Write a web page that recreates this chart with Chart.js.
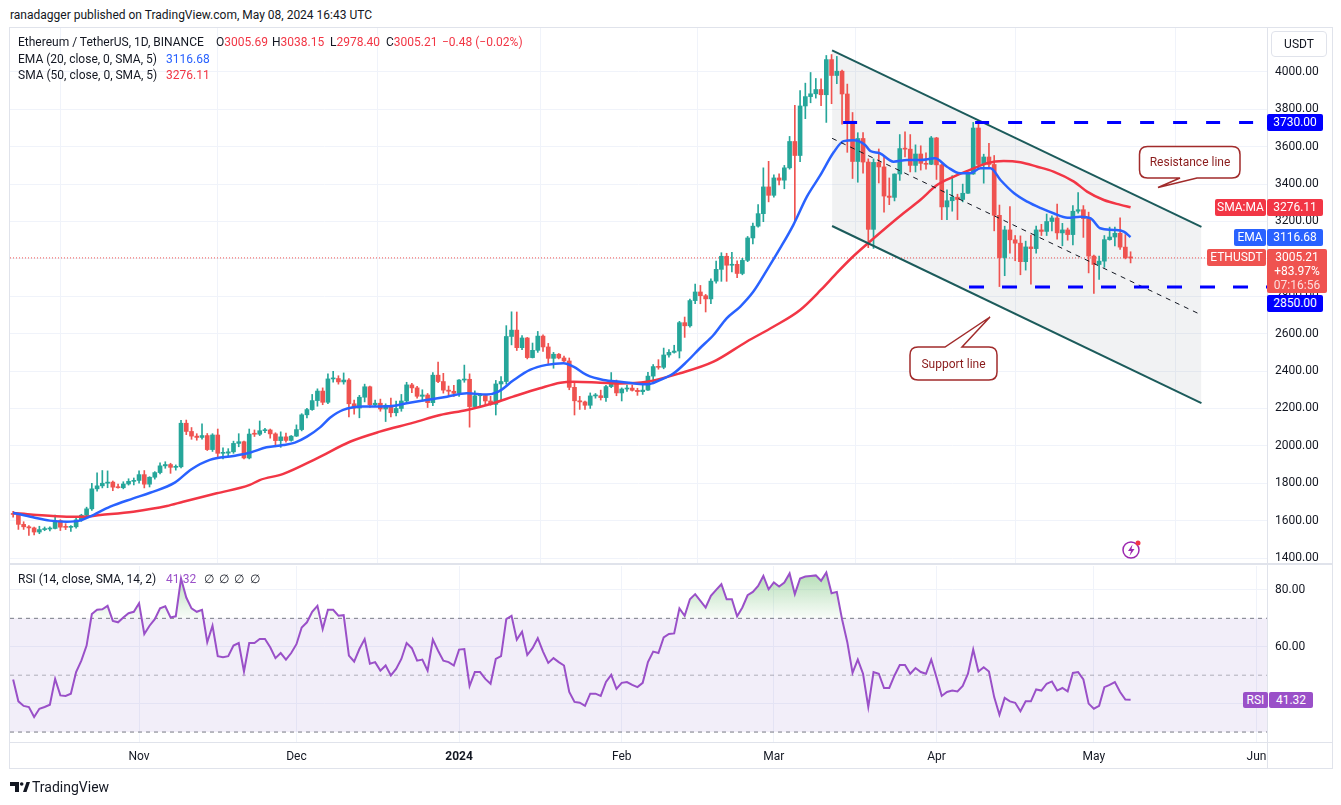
<!DOCTYPE html>
<html lang="en">
<head>
<meta charset="utf-8">
<title>Ethereum / TetherUS 1D</title>
<script src="https://cdn.jsdelivr.net/npm/chart.js@4.4.1/dist/chart.umd.min.js"></script>
<style>
  html, body { margin: 0; padding: 0; background: #fff; }
  body { position: relative; width: 1341px; height: 805px; overflow: hidden;
         font-family: Roboto, "Noto Sans", Arial, sans-serif; font-size: 12px; color: #131722; }
  .abs { position: absolute; white-space: nowrap; }
  .txt { line-height: 16px; }
  .red { color: #f23645; }
  .blue { color: #2962ff; }
  .purple { color: #9a50c8; }
  .rule { position: absolute; background: #e0e3eb; }
  .tag { position: absolute; height: 17px; line-height: 17px; color: #fff; font-size: 12px;
         text-align: center; border-radius: 2px; white-space: nowrap; }
  #pw { left: 0; top: 0; width: 1341px; height: 564px; }
  #rw { left: 0; top: 565px; width: 1341px; height: 240px; }
</style>
</head>
<body>
<div class="abs txt" style="left:10px;top:7px">ranadagger published on TradingView.com, May 08, 2024 16:43 UTC</div>

<div class="abs" id="pw"><canvas id="priceChart"></canvas></div>
<div class="abs" id="rw"><canvas id="rsiChart"></canvas></div>

<!-- frame -->
<div class="rule" style="left:9px;top:27px;width:1324px;height:1px"></div>
<div class="rule" style="left:9px;top:768px;width:1324px;height:1px"></div>
<div class="rule" style="left:9px;top:27px;width:1px;height:742px"></div>
<div class="rule" style="left:1332px;top:27px;width:1px;height:742px"></div>
<div class="rule" style="left:1267px;top:27px;width:1px;height:742px"></div>
<div class="rule" style="left:9px;top:563px;width:1324px;height:2px"></div>
<div class="rule" style="left:9px;top:742px;width:1324px;height:1px"></div>

<!-- legends -->
<div class="abs txt" style="left:18px;top:34px">Ethereum / TetherUS, 1D, BINANCE</div>
<div class="abs txt" style="left:216px;top:34px">O<span class="red">3005.69</span></div>
<div class="abs txt" style="left:272px;top:34px">H<span class="red">3038.15</span></div>
<div class="abs txt" style="left:330px;top:34px">L<span class="red">2978.40</span></div>
<div class="abs txt" style="left:386px;top:34px">C<span class="red">3005.21</span></div>
<div class="abs txt red" style="left:442px;top:34px">−0.48 (−0.02%)</div>
<div class="abs txt" style="left:18px;top:51px">EMA (20, close, 0, SMA, 5)</div>
<div class="abs txt blue" style="left:166px;top:51px">3116.68</div>
<div class="abs txt" style="left:18px;top:67px">SMA (50, close, 0, SMA, 5)</div>
<div class="abs txt red" style="left:166px;top:67px">3276.11</div>
<div class="abs txt" style="left:18px;top:571px">RSI (14, close, SMA, 14, 2)</div>
<div class="abs txt purple" style="left:166px;top:571px">41.32</div>
<div class="abs txt" style="left:204px;top:571px">∅</div>
<div class="abs txt" style="left:219px;top:571px">∅</div>
<div class="abs txt" style="left:234px;top:571px">∅</div>
<div class="abs txt" style="left:250px;top:571px">∅</div>

<div class="abs" style="left:1271px;top:31px;width:54px;height:24px;border:1px solid #e0e3eb;border-radius:4px;line-height:24px;text-align:center">USDT</div>

<div id="tags"></div>

<svg class="abs" style="left:0;top:0" width="1341" height="805">
  <path d="M1147.5 146.5 H1232 Q1240 146.5 1240 154.5 V170 Q1240 178 1232 178 H1197 L1158 187.5 L1180 178 H1147.5 Q1139.5 178 1139.5 170 V154.5 Q1139.5 146.5 1147.5 146.5 Z"
        fill="#fff" stroke="#a12b2b" stroke-width="1.5"/>
  <text x="1190" y="166" text-anchor="middle" font-size="12" fill="#8a1c1c" font-family="Roboto, 'Noto Sans', sans-serif">Resistance line</text>
  <path d="M918 347 H945 L990 317 L962 347 H989 Q997 347 997 355 V372 Q997 380 989 380 H918 Q910 380 910 372 V355 Q910 347 918 347 Z"
        fill="#fff" stroke="#a12b2b" stroke-width="1.5"/>
  <text x="953.5" y="368" text-anchor="middle" font-size="12" fill="#8a1c1c" font-family="Roboto, 'Noto Sans', sans-serif">Support line</text>
  <circle cx="1131" cy="550" r="8" fill="#fff" stroke="#9c27b0" stroke-width="1.5"/>
  <path d="M1132.5 544.5 L1128 551 H1131 L1129.5 556 L1134.5 549 H1131.5 Z" fill="#9c27b0"/>
  <circle cx="1138" cy="543" r="2.5" fill="#f23645"/>
  <path d="M10 782 h9 v10 h-4 v-6 h-5 z" fill="#131722"/>
  <circle cx="21.7" cy="784" r="1.8" fill="#131722"/>
  <path d="M23 792 L26.5 782 H30 L26.5 792 Z" fill="#131722"/>
  <text x="32" y="792" font-size="14" fill="#131722" font-family="Roboto, 'Noto Sans', sans-serif">TradingView</text>
</svg>

<script>
// one candle per day, day 0 = 2023-10-08, day 213 = 2024-05-08
const monthDays = [24, 54, 85, 116, 145, 176, 206, 237];
const monthLabels = ['Nov', 'Dec', '2024', 'Feb', 'Mar', 'Apr', 'May', 'Jun'];
const priceTicks = [1400, 1600, 1800, 2000, 2200, 2400, 2600, 2800, 3000, 3200, 3400, 3600, 3800, 4000];
const rsiTicks = [40, 60, 80];

const opens = [
  1637,1633,1580,1567,1561,1539,1552,1555,1558,1600,1565,1564,1567,1604,1629,1663,1770,1786,1800,1806,
  1779,1776,1796,1810,1815,1846,1795,1832,1857,1893,1900,1885,1888,2121,2077,2052,2045,2055,1980,2058,
  1960,1961,1968,2013,2022,1935,2063,2062,2081,2085,2064,2028,2048,2029,2052,2087,2166,2194,2242,2293,
  2233,2358,2360,2342,2352,2225,2202,2260,2316,2220,2228,2197,2217,2177,2200,2240,2326,2310,2265,2272,
  2231,2378,2344,2298,2292,2281,2352,2356,2210,2268,2269,2240,2222,2331,2344,2585,2619,2525,2577,2472,
  2511,2587,2529,2468,2490,2470,2454,2313,2241,2235,2217,2267,2268,2258,2317,2343,2283,2304,2309,2297,
  2290,2298,2373,2424,2420,2486,2500,2507,2659,2642,2777,2823,2803,2786,2881,2944,3014,2966,2971,2922,
  2992,3112,3175,3242,3385,3340,3433,3421,3487,3628,3553,3818,3868,3883,3906,3878,4066,3981,4004,3882,
  3737,3521,3644,3518,3158,3516,3492,3336,3329,3454,3590,3587,3500,3561,3511,3506,3647,3503,3278,3311,
  3330,3318,3351,3454,3700,3505,3545,3505,3233,3007,3155,3102,3084,2985,3064,3055,3155,3147,3200,3219,
  3139,3155,3130,3255,3263,3216,3015,2970,2988,3103,3117,3137,3063,3005.69
];
const highs = [
  1650,1636,1594,1573,1566,1570,1566,1567,1630,1605,1584,1574,1615,1634,1672,1800,1855,1868,1866,1812,
  1795,1808,1824,1828,1866,1868,1835,1862,1909,1915,1907,1898,2136,2138,2098,2065,2118,2066,2065,2090,
  1990,1985,2025,2065,2025,2090,2085,2133,2094,2090,2070,2075,2068,2055,2112,2172,2200,2275,2305,2310,
  2385,2398,2375,2390,2360,2245,2270,2330,2320,2245,2250,2225,2255,2240,2275,2340,2335,2318,2300,2280,
  2392,2448,2388,2320,2324,2355,2432,2385,2294,2278,2275,2265,2350,2370,2643,2717,2716,2590,2580,2550,
  2612,2594,2548,2500,2494,2480,2470,2345,2265,2240,2283,2280,2298,2324,2392,2352,2310,2325,2325,2308,
  2336,2393,2435,2461,2523,2515,2538,2666,2689,2785,2865,2858,2810,2893,2988,3033,3030,3035,2990,3003,
  3120,3192,3290,3487,3522,3450,3455,3500,3655,3822,3900,3940,3997,3965,3963,4088,4093,4083,4010,3935,
  3783,3675,3675,3535,3535,3588,3545,3433,3455,3665,3680,3665,3610,3605,3567,3655,3650,3505,3370,3445,
  3346,3400,3458,3730,3728,3560,3618,3553,3288,3175,3280,3125,3123,3095,3128,3175,3185,3240,3230,3293,
  3190,3165,3285,3355,3285,3250,3020,3015,3125,3170,3170,3220,3130,3038.15
];
const lows = [
  1618,1553,1553,1521,1523,1530,1546,1545,1555,1547,1552,1542,1560,1596,1620,1655,1758,1775,1776,1760,
  1773,1770,1790,1791,1800,1775,1780,1822,1850,1880,1853,1870,1882,2060,2035,2030,2036,1975,1970,1940,
  1930,1945,1960,1995,1930,1930,2050,2055,2071,2041,1995,1992,2020,2025,2050,2080,2150,2190,2212,2220,
  2226,2340,2330,2330,2155,2170,2150,2235,2205,2210,2185,2130,2155,2160,2185,2230,2285,2255,2240,2205,
  2215,2338,2282,2270,2265,2265,2340,2100,2200,2208,2215,2217,2165,2245,2330,2540,2510,2515,2465,2470,
  2500,2505,2440,2415,2465,2450,2300,2165,2195,2195,2200,2255,2245,2237,2311,2268,2240,2291,2293,2270,
  2275,2296,2332,2410,2412,2474,2496,2470,2580,2635,2760,2760,2716,2760,2870,2880,2880,2930,2900,2915,
  2985,3080,3170,3199,3305,3330,3395,3375,3480,3200,3520,3750,3835,3860,3820,3730,3830,3937,3720,3570,
  3430,3410,3458,3060,3056,3406,3250,3290,3310,3420,3545,3465,3465,3475,3480,3504,3425,3210,3210,3255,
  3210,3305,3350,3452,3485,3405,3486,3150,2852,2910,3030,2990,2915,2940,2865,3030,3125,3125,3150,3105,
  3070,3100,3075,3245,3115,2925,2815,2890,2955,3100,3070,3050,3000,2978.40
];
const closes = [
  1633,1580,1567,1561,1539,1552,1555,1558,1600,1565,1564,1567,1604,1629,1663,1770,1786,1800,1806,1779,
  1776,1796,1810,1815,1846,1795,1832,1857,1893,1900,1885,1888,2121,2077,2052,2045,2055,1980,2058,1960,
  1961,1968,2013,2022,1935,2063,2062,2081,2085,2064,2028,2048,2029,2052,2087,2166,2194,2242,2293,2233,
  2358,2360,2342,2352,2225,2202,2260,2316,2220,2228,2197,2217,2177,2200,2240,2326,2310,2265,2272,2231,
  2378,2344,2298,2292,2281,2352,2356,2210,2268,2269,2240,2222,2331,2344,2585,2619,2525,2577,2472,2511,
  2587,2529,2468,2490,2470,2454,2313,2241,2235,2217,2267,2268,2258,2317,2343,2283,2304,2309,2297,2290,
  2298,2373,2424,2420,2486,2500,2507,2659,2642,2777,2823,2803,2786,2881,2944,3014,2966,2971,2922,2992,
  3112,3175,3242,3385,3340,3433,3421,3487,3628,3553,3818,3868,3883,3906,3878,4066,3981,4004,3882,3737,
  3521,3644,3518,3158,3516,3492,3336,3329,3454,3590,3587,3500,3561,3511,3506,3647,3503,3278,3311,3330,
  3318,3351,3454,3700,3505,3545,3505,3233,3007,3155,3102,3084,2985,3064,3055,3155,3147,3200,3219,3139,
  3155,3130,3255,3263,3216,3015,2970,2988,3103,3117,3137,3063,3006,3005.21
];

// EMA 20 and SMA 50 at sample days
const emaDays = [0,3.8,7,10.2,12.7,14.6,18.5,22.9,26.1,30.8,34,37.5,42,45.1,48.3,51.5,53.7,56,58.5,60.4,
  62.9,66.7,71.8,75,78.8,82.7,86.5,90.3,92.5,95.3,98.5,101.7,104.9,106.8,109.3,112.5,115.7,120.8,123.3,125.9,
  128.4,130.9,133.5,136,138.6,141.1,143.7,146.2,148.7,151.3,153.8,156.4,158.3,160.2,162.4,163.4,165.2,167.8,170.4,172.9,
  175.7,178,180.5,182.4,184.4,186.3,188.2,190.8,193.3,195.9,198.3,201,203.4,205.4,207.2,209.8,211.7,213];
const emaValues = [1642,1618,1600,1594,1600,1621,1675,1719,1749,1803,1875,1925,1946,1963,1992,2004,2017,2049,2099,2150,
  2192,2210,2212,2228,2245,2263,2281,2275,2290,2349,2406,2433,2442,2424,2379,2352,2343,2329,2352,2388,
  2450,2522,2593,2682,2745,2825,2941,3057,3181,3333,3445,3570,3630,3634,3609,3577,3565,3520,3529,3529,
  3538,3493,3458,3458,3485,3485,3422,3351,3306,3271,3244,3220,3226,3217,3164,3155,3146,3116.68];
const smaDays = [0,3.8,10.2,13.4,16.6,22.9,29.3,32.4,38.8,45.1,47,51.5,57.9,64.2,69.9,76.3,81.4,86.5,91.5,95.3,
  100.4,104.3,106.8,111.9,115.7,120.8,127.1,133.5,139.8,144.9,150,154,157,160,163,166.6,169.7,172.9,176.1,179.3,
  182.4,185.6,188.8,192,195.2,198.3,202.2,204.7,207.9,211.1,213];
const smaValues = [1641,1632,1621,1621,1630,1648,1678,1701,1746,1791,1817,1850,1933,2022,2076,2124,2165,2192,2228,2263,
  2308,2338,2343,2338,2334,2343,2388,2450,2557,2637,2727,2835,2925,3010,3085,3172,3244,3315,3395,3440,
  3476,3512,3524,3517,3493,3467,3413,3360,3315,3289,3276.11];

// RSI 14, one value per day
const rsiValues = [
  48.5,40.8,39.2,38.8,35.3,38.2,38.8,39.6,48.7,42.9,42.7,43.5,51.1,55.1,60.4,71.5,73.0,73.2,74.4,69.1,
  68.6,70.3,71.8,72.3,75.3,64.5,67.4,69.7,73.5,74.2,70.3,70.7,84.0,77.3,73.5,72.3,73.0,61.6,67.4,56.7,
  56.3,56.7,60.4,61.3,51.3,61.3,61.3,62.7,62.7,59.8,56.0,57.8,55.5,57.8,60.9,66.8,68.6,72.3,74.4,66.2,
  73.0,73.0,70.9,71.1,56.9,54.8,59.2,62.7,54.0,54.6,51.6,53.4,49.9,52.2,55.7,61.3,59.5,55.1,55.5,51.6,
  62.5,58.6,55.1,54.6,53.4,59.0,59.2,46.2,51.1,51.1,48.7,47.0,55.7,56.7,69.7,70.9,62.5,65.3,57.1,59.5,
  63.0,58.3,54.3,56.0,54.6,53.4,44.1,40.6,40.3,39.2,43.5,43.5,42.7,47.6,50.1,45.2,47.3,47.6,46.6,45.8,
  47.3,54.6,58.3,57.8,63.3,64.5,64.7,73.5,70.9,76.7,78.5,76.1,73.8,77.9,80.0,82.0,76.7,76.7,70.7,73.8,
  78.1,79.3,81.4,84.9,80.2,82.6,81.2,82.6,85.8,78.5,84.0,84.7,84.9,85.1,83.2,86.1,78.8,79.3,69.7,61.6,
  50.8,55.5,50.5,38.8,51.1,50.5,45.5,45.5,49.9,53.6,53.6,50.5,52.5,51.1,50.5,55.5,49.3,42.7,44.1,44.6,
  44.3,46.2,50.5,59.0,51.3,52.8,51.3,42.3,36.1,42.0,40.8,40.3,37.3,40.8,40.8,45.0,44.6,47.0,47.8,44.6,
  45.5,44.3,50.8,51.1,48.5,40.0,38.2,39.2,45.8,46.6,47.6,44.1,41.4,41.32
];

// drawings (day, price)
const channelTop = [[156.1, 4115], [226.5, 3171]];
const channelBottom = [[156.1, 3176], [226.5, 2229]];
const channelMid = [[156.1, 3645], [226.5, 2700]];
const resistanceLine = [158.2, 3730];
const supportLine = [182.2, 2850];

const xRange = [-0.6, 239];
const priceRange = [1368, 4235];
const rsiRange = [26.5, 88.4];

const upColor = '#26a69a';
const downColor = '#ef5350';
const gridColor = '#f0f3fa';
const rsiColor = '#9a50c8';

Chart.defaults.font.family = 'Roboto, "Noto Sans", sans-serif';
Chart.defaults.font.size = 12;
Chart.defaults.color = '#131722';

const pts = arr => arr.map(p => ({x: p[0], y: p[1]}));
const hLine = (from, y) => [{x: from, y: y}, {x: xRange[1], y: y}];
const candleColors = closes.map((c, i) => c >= opens[i] ? upColor : downColor);
const lastClose = closes[closes.length - 1];

const monthTicks = s => { s.ticks = monthDays.map(v => ({value: v})); };

const priceChart = new Chart(document.getElementById('priceChart'), {
  type: 'bar',
  data: {
    datasets: [
      {type: 'line', data: pts(channelTop), borderColor: '#1c5b5b', borderWidth: 2, pointRadius: 0,
       fill: '+1', backgroundColor: 'rgba(120,123,134,0.1)', order: 2},
      {type: 'line', data: pts(channelBottom), borderColor: '#1c5b5b', borderWidth: 2, pointRadius: 0,
       fill: false, order: 2},
      {type: 'line', data: pts(channelMid), borderColor: '#131722', borderWidth: 1, borderDash: [5, 5],
       pointRadius: 0, fill: false, order: 1},
      {type: 'line', data: hLine(resistanceLine[0], resistanceLine[1]), borderColor: '#0000ff', borderWidth: 3,
       borderDash: [14, 19], pointRadius: 0, fill: false, order: 0},
      {type: 'line', data: hLine(supportLine[0], supportLine[1]), borderColor: '#0000ff', borderWidth: 3,
       borderDash: [15, 18], pointRadius: 0, fill: false, order: 0},
      {type: 'line', data: emaDays.map((d, i) => ({x: d, y: emaValues[i]})), borderColor: '#2962ff',
       borderWidth: 2.5, pointRadius: 0, cubicInterpolationMode: 'monotone', fill: false, order: 4},
      {type: 'line', data: smaDays.map((d, i) => ({x: d, y: smaValues[i]})), borderColor: '#f23645',
       borderWidth: 2.5, pointRadius: 0, cubicInterpolationMode: 'monotone', fill: false, order: 5},
      {label: 'wicks', data: highs.map((h, i) => ({x: i, y: [lows[i], h]})), backgroundColor: candleColors,
       barThickness: 1, grouped: false, order: 8},
      {label: 'bodies', data: opens.map((o, i) => ({x: i, y: [o, closes[i]]})), backgroundColor: candleColors,
       barThickness: 4, minBarLength: 1, grouped: false, order: 7},
      {type: 'line', data: hLine(xRange[0], lastClose), borderColor: '#ef5350', borderWidth: 1,
       borderDash: [1, 2], pointRadius: 0, fill: false, order: 9}
    ]
  },
  options: {
    responsive: true,
    maintainAspectRatio: false,
    animation: false,
    events: [],
    layout: {padding: {left: 10, right: 0, top: 28, bottom: 0}},
    plugins: {legend: {display: false}, tooltip: {enabled: false}, filler: {drawTime: 'beforeDatasetsDraw'}},
    scales: {
      x: {
        type: 'linear', min: xRange[0], max: xRange[1], offset: false,
        grid: {color: gridColor, drawTicks: false}, border: {display: false},
        ticks: {display: false},
        afterBuildTicks: monthTicks,
        afterFit: s => { s.height = 0; s.paddingLeft = 0; s.paddingRight = 0; }
      },
      y: {
        type: 'linear', position: 'right', min: priceRange[0], max: priceRange[1],
        grid: {color: gridColor, drawTicks: false}, border: {display: false},
        ticks: {padding: 8, color: '#131722', callback: v => v.toFixed(2)},
        afterBuildTicks: s => { s.ticks = priceTicks.map(v => ({value: v})); },
        afterFit: s => { s.width = 74; s.paddingTop = 0; s.paddingBottom = 0; }
      }
    }
  }
});

const rsiChart = new Chart(document.getElementById('rsiChart'), {
  type: 'line',
  data: {
    datasets: [
      {data: hLine(xRange[0], 70), borderColor: '#787b86', borderWidth: 1, borderDash: [4, 4], pointRadius: 0,
       fill: {target: {value: 30}}, backgroundColor: 'rgba(126,87,194,0.1)', order: 3},
      {data: hLine(xRange[0], 50), borderColor: 'rgba(120,123,134,0.55)', borderWidth: 1, borderDash: [4, 4],
       pointRadius: 0, fill: false, order: 2},
      {data: hLine(xRange[0], 30), borderColor: '#787b86', borderWidth: 1, borderDash: [4, 4], pointRadius: 0,
       fill: false, order: 1},
      {data: rsiValues.map((v, i) => ({x: i, y: v})), borderColor: rsiColor, borderWidth: 2, pointRadius: 0,
       fill: {target: {value: 70}, above: 'rgba(76,175,80,0.2)', below: 'rgba(0,0,0,0)'}, order: 0}
    ]
  },
  options: {
    responsive: true,
    maintainAspectRatio: false,
    animation: false,
    events: [],
    layout: {padding: {left: 10, right: 0, top: 0, bottom: 37}},
    plugins: {legend: {display: false}, tooltip: {enabled: false}, filler: {drawTime: 'beforeDatasetsDraw'}},
    scales: {
      x: {
        type: 'linear', min: xRange[0], max: xRange[1], offset: false,
        grid: {color: gridColor, drawTicks: false}, border: {display: false},
        ticks: {
          padding: 8, color: '#131722', autoSkip: false, maxRotation: 0,
          callback: v => monthLabels[monthDays.indexOf(v)],
          font: ctx => ({size: 12, weight: ctx.tick && ctx.tick.value === 85 ? 'bold' : 'normal'})
        },
        afterBuildTicks: monthTicks,
        afterFit: s => { s.height = 26; s.paddingLeft = 0; s.paddingRight = 0; }
      },
      y: {
        type: 'linear', position: 'right', min: rsiRange[0], max: rsiRange[1],
        grid: {color: gridColor, drawTicks: false}, border: {display: false},
        ticks: {padding: 8, color: '#131722', callback: v => v === 40 ? '' : v.toFixed(2)},
        afterBuildTicks: s => { s.ticks = rsiTicks.map(v => ({value: v})); },
        afterFit: s => { s.width = 74; s.paddingTop = 0; s.paddingBottom = 0; }
      }
    }
  }
});

// green fade above the overbought line
const ry = rsiChart.scales.y;
const grad = rsiChart.ctx.createLinearGradient(0, ry.getPixelForValue(87), 0, ry.getPixelForValue(70));
grad.addColorStop(0, 'rgba(76,175,80,0.45)');
grad.addColorStop(1, 'rgba(76,175,80,0.04)');
rsiChart.data.datasets[3].fill.above = grad;
rsiChart.update('none');

// price scale tags
const tags = document.getElementById('tags');
function tag(left, top, width, height, bg, html) {
  const d = document.createElement('div');
  d.className = 'tag';
  d.style.cssText = `left:${left}px;top:${top}px;width:${width}px;height:${height}px;background:${bg}`;
  d.innerHTML = html;
  tags.appendChild(d);
}
const py = v => priceChart.scales.y.getPixelForValue(v);
const smaLast = smaValues[smaValues.length - 1];
const emaLast = emaValues[emaValues.length - 1];

tag(1267, py(3730) - 8.5, 56, 17, '#0000ff', '3730.00');
tag(1215, py(smaLast) - 8.5, 51, 17, '#f23645', 'SMA:MA');
tag(1267, py(smaLast) - 8.5, 56, 17, '#f23645', smaLast.toFixed(2));
tag(1234, py(emaLast) - 8.5, 32, 17, '#2962ff', 'EMA');
tag(1267, py(emaLast) - 8.5, 56, 17, '#2962ff', emaLast.toFixed(2));
const ethTop = py(lastClose) - 8.5;
tag(1207, ethTop, 59, 17, '#ef5350', 'ETHUSDT');
tag(1267, ethTop, 60, 44, '#ef5350',
  '<div style="line-height:14px;padding-top:1px">' + lastClose.toFixed(2) +
  '<br>+83.97%<br><span style="opacity:0.8">07:16:56</span></div>');
tag(1267, ethTop + 45.5, 56, 17, '#0000ff', '2850.00');

const rsiLast = rsiValues[rsiValues.length - 1];
const rTop = 565 + ry.getPixelForValue(rsiLast) - 8;
tag(1243, rTop, 25, 16, rsiColor, 'RSI');
tag(1269, rTop, 44, 16, rsiColor, rsiLast.toFixed(2));
</script>
</body>
</html>
